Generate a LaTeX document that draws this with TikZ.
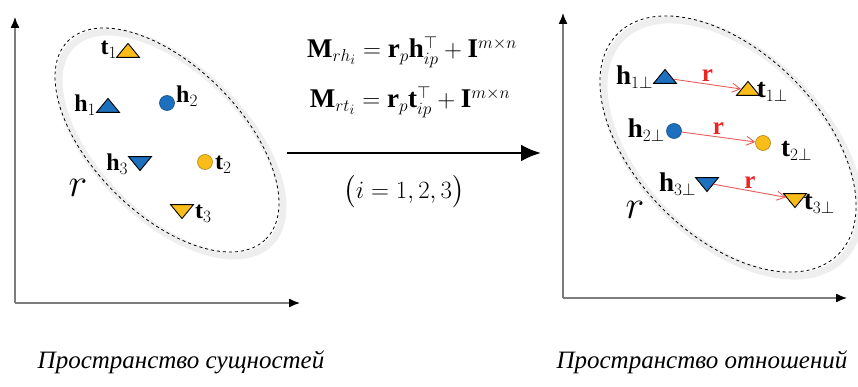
\documentclass[tikz,border=0pt]{standalone}
\usepackage{amsmath,amssymb}
\usepackage{fontspec}
\setmainfont{Liberation Serif}
\setmathrm{Liberation Serif}
\usepackage{tikz}
\usetikzlibrary{positioning,arrows.meta,calc,shapes.geometric}
\definecolor{entblue}{RGB}{28,112,190}
\definecolor{entyellow}{RGB}{250,188,24}
\definecolor{relred}{RGB}{232,92,92}
\definecolor{labred}{RGB}{235,35,35}
\definecolor{axisgray}{RGB}{125,125,125}
\definecolor{glowgray}{RGB}{238,238,238}

\begin{document}
\begin{tikzpicture}[
  x=1pt,y=1pt,
  >={Latex[length=11pt,width=9pt]},
  triup/.style={isosceles triangle,isosceles triangle stretches,shape border rotate=90,minimum width=23pt,minimum height=14pt,inner sep=0pt,draw=black,line width=0.9pt},
  tridown/.style={triup,shape border rotate=270},
  dot/.style={circle,minimum size=15pt,inner sep=0pt,line width=0.6pt},
  lab/.style={font=\fontsize{24}{26}\selectfont,inner sep=1pt},
  labr/.style={font=\fontsize{27}{29}\selectfont,inner sep=1pt},
  rvar/.style={font=\fontsize{27}{30}\selectfont,scale=1.6,inner sep=0pt},
  axis/.style={draw=axisgray,line width=1.3pt,-{Latex[length=11pt,width=9pt,black]}},
  ring/.style={draw=black,dashed,line width=0.8pt},
  glow/.style={draw=glowgray,line width=7pt},
  rel/.style={draw=relred,line width=0.9pt,-{Straight Barb[length=8pt,width=9pt]}},
  rlab/.style={font=\fontsize{25}{27}\selectfont\bfseries,text=labred,inner sep=1pt},
  eq/.style={font=\fontsize{27}{30}\selectfont,inner sep=0pt},
  capt/.style={font=\fontsize{25}{28}\selectfont\itshape,inner sep=0pt}
]
\useasboundingbox (0,0) rectangle (858,386);

% LEFT: entity space
\coordinate (lo) at (15,83);
\coordinate (ly) at (15,369);
\coordinate (lx) at (300,83);
\draw[axis] (lo) -- (ly);
\draw[axis] (lo) -- (lx);
\draw[glow] (171,242) ellipse [x radius=140,y radius=74,rotate=-45];
\draw[ring] (167,246) ellipse [x radius=140,y radius=74,rotate=-45];

\node[triup,fill=entyellow] (t1) at (128,334) {};
\node[lab,anchor=east] at ([xshift=-2pt,yshift=2pt]t1.west) {$\mathbf{t}_1$};
\node[triup,fill=entblue] (h1) at (108,279) {};
\node[lab,anchor=east] at ([xshift=-3pt,yshift=2pt]h1.west) {$\mathbf{h}_1$};
\node[dot,fill=entblue,draw=entblue!70!black] (h2) at (167,283) {};
\node[lab,anchor=west] at (175,290) {$\mathbf{h}_2$};
\node[tridown,fill=entblue] (h3) at (140,224) {};
\node[lab,anchor=east] at ([xshift=-3pt,yshift=-2pt]h3.west) {$\mathbf{h}_3$};
\node[dot,fill=entyellow,draw=entyellow!70!black] (t2) at (205,224) {};
\node[lab,anchor=west] at (214,221) {$\mathbf{t}_2$};
\node[tridown,fill=entyellow] (t3) at (182,176) {};
\node[lab,anchor=west] at (194,172) {$\mathbf{t}_3$};
\node[rvar] (rl) at (78,198) {$r$};

% MIDDLE: projection
\node[eq] (eq1) at (412,334) {$\mathbf{M}_{rh_i}=\mathbf{r}_p\mathbf{h}_{ip}^{\top}+\mathbf{I}^{m\times n}$};
\node[eq] (eq2) at (410,284) {$\mathbf{M}_{rt_i}=\mathbf{r}_p\mathbf{t}_{ip}^{\top}+\mathbf{I}^{m\times n}$};
\coordinate (pa) at (287,233);
\coordinate (pb) at (541,233);
\draw[line width=2.8pt,-{Latex[length=20pt,width=17pt]}] (pa) -- (pb);
\node[eq] (idx) at (404,194) {$\bigl(i=1,2,3\bigr)$};

% RIGHT: relation space
\coordinate (ro) at (563,88);
\coordinate (ry) at (563,373);
\coordinate (rx) at (847,88);
\draw[axis] (ro) -- (ry);
\draw[axis] (ro) -- (rx);
\draw[glow] (732,238) ellipse [x radius=156,y radius=92,rotate=-45];
\draw[ring] (728,242) ellipse [x radius=156,y radius=92,rotate=-45];

\node[triup,fill=entblue] (h1p) at (665,308) {};
\node[labr,anchor=east] at ([xshift=-3pt,yshift=1pt]h1p.west) {$\mathbf{h}_{1\perp}$};
\node[triup,fill=entyellow] (t1p) at (748,296) {};
\node[labr,anchor=west] at ([xshift=0pt,yshift=-2pt]t1p.east) {$\mathbf{t}_{1\perp}$};
\node[dot,fill=entblue,draw=entblue!70!black] (h2p) at (674,255) {};
\node[labr,anchor=east] at (666,256) {$\mathbf{h}_{2\perp}$};
\node[dot,fill=entyellow,draw=entyellow!70!black] (t2p) at (763,243) {};
\node[labr,anchor=west] at (780,235) {$\mathbf{t}_{2\perp}$};
\node[tridown,fill=entblue] (h3p) at (707,203) {};
\node[labr,anchor=east] at ([xshift=-2pt,yshift=-1pt]h3p.west) {$\mathbf{h}_{3\perp}$};
\node[tridown,fill=entyellow] (t3p) at (795,187) {};
\node[labr,anchor=west] at ([xshift=0pt,yshift=-5pt]t3p.east) {$\mathbf{t}_{3\perp}$};
\node[rvar] (rr) at (635,176) {$r$};

\draw[rel] (h1p) -- node[rlab,above=1pt] {r} (t1p);
\draw[rel] (h2p) -- node[rlab,above=1pt] {r} (t2p);
\draw[rel] (h3p) -- node[rlab,above=1pt] {r} (t3p);

% CAPTIONS
\node[capt] (cl) at (181,24) {Пространство сущностей};
\node[capt] (cr) at (702,24) {Пространство отношений};
\end{tikzpicture}
\end{document}
